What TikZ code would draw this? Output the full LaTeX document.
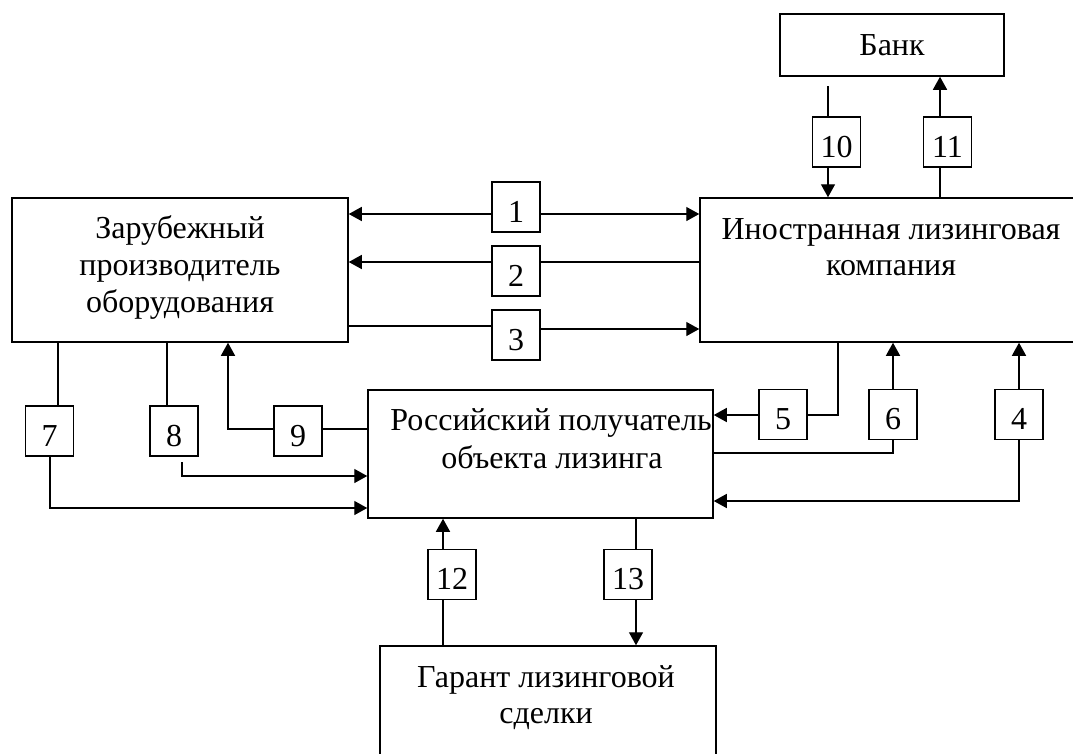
\documentclass[tikz,border=0pt]{standalone}
\usepackage{fontspec}
\setmainfont{Liberation Serif}
\usetikzlibrary{arrows.meta}
\newcommand{\fs}{\fontsize{32}{37}\selectfont}
\begin{document}
\begin{tikzpicture}[x=1pt,y=-1pt,
  box/.style={draw,line width=1.5pt,inner sep=0pt},
  numbox/.style={draw,line width=1.5pt,inner sep=0pt,minimum width=48pt,minimum height=50pt,text height=30pt,text depth=0pt,font=\fs},
  txt/.style={anchor=base,inner sep=0pt,font=\fs},
  conn/.style={line width=1.4pt},
  arr/.style={conn,-{Triangle[length=13pt,width=14pt]}}]
\useasboundingbox (0,0) rectangle (1073,753);
\clip (0,0) rectangle (1073,753);
\fill[white] (0,0) rectangle (1073,753);
% main boxes
\node[box,minimum width=336pt,minimum height=144pt] (Z) at (180,270) {};
\node[box,minimum width=382pt,minimum height=144pt] (I) at (891,270) {};
\node[box,minimum width=224pt,minimum height=62pt] (B) at (892,45) {};
\node[box,minimum width=345pt,minimum height=128pt] (R) at (540.5,454) {};
\node[box,minimum width=336pt,minimum height=144pt] (G) at (548,718) {};
% texts
\node[txt] (z1) at (180,238) {Зарубежный};
\node[txt] (z2) at (180,275) {производитель};
\node[txt] (z3) at (180,312) {оборудования};
\node[txt] (i1) at (891,239) {Иностранная лизинговая};
\node[txt] (i2) at (891,275) {компания};
\node[txt] (b1) at (892,55) {Банк};
\node[txt] (r1) at (551,430) {Российский получатель};
\node[txt] (r2) at (552,468) {объекта лизинга};
\node[txt] (g1) at (546,687) {Гарант лизинговой};
\node[txt] (g2) at (546,723) {сделки};
% number boxes
\node[numbox] (n1) at (516,207) {1};
\node[numbox] (n2) at (516,271) {2};
\node[numbox] (n3) at (516,335) {3};
\node[numbox] (n10) at (836.5,142) {10};
\node[numbox] (n11) at (947.5,142) {11};
\node[numbox] (n7) at (49.5,431) {7};
\node[numbox] (n8) at (174,431) {8};
\node[numbox] (n9) at (298,431) {9};
\node[numbox] (n5) at (783,414.5) {5};
\node[numbox] (n6) at (893,414.5) {6};
\node[numbox] (n4) at (1019,414.5) {4};
\node[numbox] (n12) at (452,574.5) {12};
\node[numbox] (n13) at (628,574.5) {13};
% helper coordinates
\coordinate (y1) at (0,214);
\coordinate (y2) at (0,262);
\coordinate (y3a) at (0,326);
\coordinate (y3b) at (0,329);
\coordinate (x10) at (828,0);
\coordinate (x11) at (940,0);
\coordinate (t10) at (828,86);
\coordinate (x7a) at (58,0);
\coordinate (c7) at (50,508);
\coordinate (x8a) at (167,0);
\coordinate (s8) at (182,462);
\coordinate (c8) at (182,476);
\coordinate (y9) at (0,429);
\coordinate (c9) at (228,429);
\coordinate (c5a) at (838,415);
\coordinate (c6) at (893,453);
\coordinate (c4) at (1019,501);
\coordinate (x12) at (443,0);
\coordinate (x13) at (636,0);
% connectors
\draw[arr] (n1.west |- y1) -- (Z.east |- y1);
\draw[arr] (n1.east |- y1) -- (I.west |- y1);
\draw[conn] (I.west |- y2) -- (n2.east |- y2);
\draw[arr] (n2.west |- y2) -- (Z.east |- y2);
\draw[conn] (Z.east |- y3a) -- (n3.west |- y3a);
\draw[arr] (n3.east |- y3b) -- (I.west |- y3b);
\draw[conn] (t10) -- (n10.north -| x10);
\draw[arr] (n10.south -| x10) -- (I.north -| x10);
\draw[conn] (I.north -| x11) -- (n11.south -| x11);
\draw[arr] (n11.north -| x11) -- (B.south -| x11);
\draw[conn] (Z.south -| x7a) -- (n7.north -| x7a);
\draw[arr] (n7.south -| c7) -- (c7) -- (R.west |- c7);
\draw[conn] (Z.south -| x8a) -- (n8.north -| x8a);
\draw[arr] (s8) -- (c8) -- (R.west |- c8);
\draw[conn] (R.west |- y9) -- (n9.east |- y9);
\draw[arr] (n9.west |- y9) -- (c9) -- (Z.south -| c9);
\draw[conn] (I.south -| c5a) -- (c5a) -- (n5.east |- c5a);
\draw[arr] (n5.west |- c5a) -- (R.east |- c5a);
\draw[conn] (R.east |- c6) -- (c6) -- (n6.south);
\draw[arr] (n6.north) -- (I.south -| n6.north);
\draw[arr] (n4.south) -- (c4) -- (R.east |- c4);
\draw[arr] (n4.north) -- (I.south -| n4.north);
\draw[conn] (G.north -| x12) -- (n12.south -| x12);
\draw[arr] (n12.north -| x12) -- (R.south -| x12);
\draw[conn] (R.south -| x13) -- (n13.north -| x13);
\draw[arr] (n13.south -| x13) -- (G.north -| x13);
\end{tikzpicture}
\end{document}
